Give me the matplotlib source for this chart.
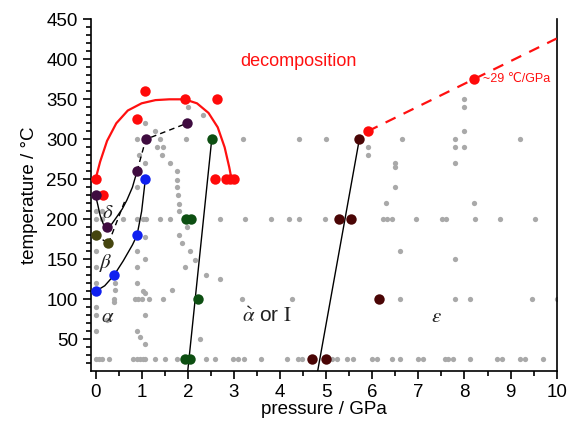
import numpy as np
import matplotlib.pyplot as plt
from matplotlib.ticker import MultipleLocator

plt.rcParams['font.family'] = ['Liberation Sans', 'DejaVu Sans']
plt.rcParams['mathtext.fontset'] = 'stix'

# --- experimental (P, T) points, grey = measured, not assigned ---
grey_p = [0, 0.07, 0.13, 0.29, 0.82, 0.89, 0.97, 1.04, 1.07, 1.29, 1.51, 1.76, 2.40, 2.59,
          2.99, 3.10, 3.21, 3.58, 4.16, 4.38, 4.47, 5.12, 5.23, 5.45, 5.59, 5.99, 6.11,
          6.43, 6.61, 7.00, 7.11, 7.58, 7.65, 7.76, 8.11, 8.70, 8.81, 9.21, 9.32, 9.70,
          0.40, 0.86, 0.93, 1.00, 1.15, 1.47, 3.17, 4.26, 6.60, 7.80, 8.11, 9.46, 10.0,
          0.42, 1.07, 1.65,
          0, 0.13, 0.60, 0.89, 1.04, 1.10, 1.40, 1.62, 2.70, 3.24, 3.80, 4.20, 4.42, 4.98,
          6.23, 6.32, 6.42, 6.95, 7.51, 7.60, 8.22, 8.76, 9.53,
          0.89, 1.40, 1.96, 3.19, 4.42, 5.00, 6.64, 7.80, 9.21,
          1.07, 1.28, 1.33, 1.47, 1.44, 1.62, 1.76, 1.76, 1.76, 1.78, 1.80, 1.80, 1.80,
          1.87, 2.05, 2.16, 1.94, 2.40, 2.69, 1.98, 2.01, 2.34, 0.91, 0.95, 1.07,
          1.07, 1.07, 0.89, 0.89, 0.89, 1.04, 1.07, 0.89, 0.96, 1.07, 2.27,
          0, 0, 0, 0, 0, 0, 0, 0.13, 0.42, 0.39, 0.24,
          8.0, 8.0, 8.0, 7.8, 8.0, 7.8, 8.2, 7.8, 5.9, 5.9, 6.5, 6.5, 6.5, 6.3, 6.6]
grey_t = [25] * 40 + [100] * 13 + [112, 108, 112] + [200] * 23 + [300] * 9 + \
         [321, 310, 291, 290, 281, 270, 260, 249, 240, 230, 219, 211, 180,
          170, 160, 149, 141, 130, 125, 190, 341, 330, 241, 281, 270,
          178, 150, 160, 140, 120, 110, 80, 60, 53, 44, 51,
          210, 160, 140, 120, 91, 80, 60, 210, 120, 97, 74,
          350, 340, 310, 290, 290, 270, 220, 150, 291, 280, 271, 266, 240, 220, 160]

# --- assigned phase points ---
red_p = [0, 0.17, 0.90, 1.07, 1.93, 2.63, 2.59, 2.83, 2.92, 3.00, 5.90, 8.20]
red_t = [250, 230, 325, 360, 350, 350, 250, 250, 250, 250, 310, 375]
purple_p = [0, 0.25, 0.90, 1.09, 1.98]
purple_t = [230, 190, 260, 300, 320]
olive_p = [0, 0.28]
olive_t = [180, 170]
blue_p = [0, 0.40, 0.90, 1.08]
blue_t = [110, 130, 180, 250]
green_p = [1.97, 2.07, 2.23, 1.95, 2.05, 2.52]
green_t = [200, 200, 100, 25, 25, 300]
dred_p = [4.70, 5.00, 5.29, 5.53, 6.14, 5.72]
dred_t = [25, 25, 200, 200, 100, 300]

# --- boundaries ---
decomp_p = [0.0, 0.1, 0.25, 0.45, 0.7, 1.0, 1.3, 1.6, 1.93, 2.2, 2.45, 2.65, 2.8, 2.9, 2.95]
decomp_t = [250, 272, 298, 320, 336, 345, 349, 350, 350, 345, 333, 315, 290, 265, 250]
decomp_ext_p = [5.9, 10.0]
decomp_ext_t = [310, 426]
ab_p = [0, 0.2, 0.4, 0.6, 0.8, 0.9, 1.0, 1.08]
ab_t = [110, 117, 130, 148, 168, 180, 210, 250]
delta_p = [0, 0.05, 0.1, 0.17, 0.25, 0.35, 0.46, 0.58, 0.68, 0.8, 0.9]
delta_t = [230, 218, 205, 194, 190, 194, 203, 213, 224, 240, 260]
delta_top_p = [0.9, 1.09, 1.98]
delta_top_t = [260, 300, 320]
beta_dash_p = [0.28, 0.65]
beta_dash_t = [170, 225]
olive_dash_p = [0, 0.28]
olive_dash_t = [180, 170]
b1_p = [2.52, 1.99]
b1_t = [300, 5]
b2_p = [5.72, 4.8]
b2_t = [300, 5]

fig = plt.figure(figsize=(5.79, 4.24), dpi=100)
ax = fig.add_axes([0.157, 0.126, 0.8045, 0.8285])

ax.plot(grey_p, grey_t, 'o', color='#a9a9a9', ms=3.8, mec='none', zorder=2)

ax.plot(decomp_p, decomp_t, '-', color='#ff1010', lw=1.6, zorder=3)
ax.plot(decomp_ext_p, decomp_ext_t, '--', color='#ff1010', lw=1.6, dashes=(5, 4), zorder=3)
ax.plot(ab_p, ab_t, 'k-', lw=1.0, zorder=3)
ax.plot(delta_p, delta_t, 'k-', lw=1.0, zorder=3)
ax.plot(delta_top_p, delta_top_t, 'k--', lw=1.0, dashes=(4, 3), zorder=3)
ax.plot(beta_dash_p, beta_dash_t, 'k--', lw=1.0, dashes=(4, 3), zorder=3)
ax.plot(olive_dash_p, olive_dash_t, 'k--', lw=1.0, dashes=(3, 3), zorder=3)
ax.plot(b1_p, b1_t, 'k-', lw=1.0, zorder=3)
ax.plot(b2_p, b2_t, 'k-', lw=1.0, zorder=3)

ms = 7.5
ax.plot(red_p, red_t, 'o', color='#ff0a0a', ms=ms, mec='none', zorder=4)
ax.plot(purple_p, purple_t, 'o', color='#3f0c40', ms=ms, mec='none', zorder=4)
ax.plot(olive_p, olive_t, 'o', color='#45450f', ms=ms, mec='none', zorder=4)
ax.plot(blue_p, blue_t, 'o', color='#1020f0', ms=ms, mec='none', zorder=4)
ax.plot(green_p, green_t, 'o', color='#0d4f12', ms=ms, mec='none', zorder=4)
ax.plot(dred_p, dred_t, 'o', color='#4a0505', ms=ms, mec='none', zorder=4)

# phase labels
greek = dict(fontsize=15, color='#222222', ha='center', va='center', zorder=5)
ax.text(0.27, 209, r'$\delta$', **greek)
ax.text(0.23, 146, r'$\beta$', **greek)
ax.text(0.27, 79, r'$\alpha$', **greek)
ax.text(3.72, 79, r'$\grave{\alpha}$ or $\mathrm{I}$', **greek)
ax.text(7.4, 79, r'$\varepsilon$', **greek)
ax.text(4.4, 397, 'decomposition', color='#ff1010', fontsize=13, ha='center', va='center')
ax.text(8.4, 375, '~29 ℃/GPa', color='#ff1010', fontsize=9, ha='left', va='center')

ax.set_xlim(-0.1, 10)
ax.set_ylim(11, 450)
ax.xaxis.set_major_locator(MultipleLocator(1))
ax.xaxis.set_minor_locator(MultipleLocator(0.5))
ax.yaxis.set_major_locator(MultipleLocator(50))
ax.yaxis.set_minor_locator(MultipleLocator(10))
ax.set_yticks(np.arange(50, 451, 50))
ax.tick_params(which='both', direction='out', labelsize=13.5, width=1.2, top=False, right=False)
ax.tick_params(which='major', length=6)
ax.tick_params(which='minor', length=3.5)
ax.spines['top'].set_visible(False)
for s in ['left', 'bottom', 'right']:
    ax.spines[s].set_linewidth(1.2)

ax.set_xlabel('pressure / GPa', fontsize=13.5, labelpad=0)
ax.set_ylabel('temperature / °C', fontsize=13.5, labelpad=6)

fig.savefig('out.png', dpi=100)
